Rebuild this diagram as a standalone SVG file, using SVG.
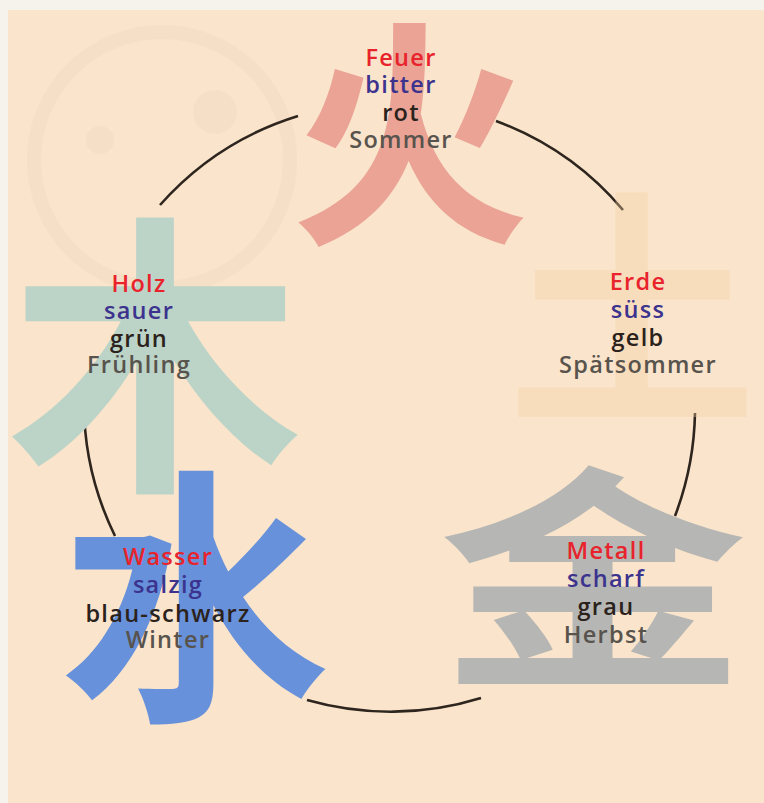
<svg xmlns="http://www.w3.org/2000/svg" width="764" height="803" viewBox="0 0 764 803">
<style>
.lbl{font-family:"Open Sans","Noto Sans","Liberation Sans",sans-serif;font-weight:600;font-size:23.5px;letter-spacing:1.3px;text-anchor:middle}
.el{fill:#e8232c}
.ta{fill:#3b338e}
.co{fill:#2b221c}
.se{fill:#58534d}
.hz{font-family:"Noto Sans CJK SC","Noto Sans CJK JP",sans-serif;font-weight:700;text-anchor:middle}
.arc{fill:none;stroke:#2e251e;stroke-width:2.6;stroke-linecap:butt}
</style>
<rect x="0" y="0" width="764" height="803" fill="#f6f2ec"/>
<rect x="8" y="10" width="756" height="793" fill="#fae4cb"/>
<g id="background-ornament" opacity="0.35">
<circle cx="162" cy="160" r="128" fill="none" stroke="#efd8c0" stroke-width="14"/>
<circle cx="100" cy="140" r="14" fill="#efd8c0"/>
<circle cx="215" cy="112" r="22" fill="#efd8c0"/>
</g>
<g id="connectors">
<path class="arc" d="M160,205 A305,305 0 0 1 298,116"/>
<path class="arc" d="M496,121 A305,305 0 0 1 623,210"/>
<path class="arc" d="M695,413 A305,305 0 0 1 675,516"/>
<path class="arc" d="M481,698 A305,305 0 0 1 307,700"/>
<path class="arc" d="M115,536 A305,305 0 0 1 84,395"/>
</g>
<g id="node-erde">
<text class="hz" x="632" y="405" font-size="250" fill="#f6d2a6" opacity="0.35">土</text>
<text class="lbl el" x="638" y="290">Erde</text>
<text class="lbl ta" x="638" y="318">süss</text>
<text class="lbl co" x="638" y="346">gelb</text>
<text class="lbl se" x="638" y="373">Spätsommer</text>
</g>
<g id="node-feuer">
<text class="hz" x="410" y="225" font-size="240" fill="#eaa395">火</text>
<text class="lbl el" x="401" y="66">Feuer</text>
<text class="lbl ta" x="401" y="93">bitter</text>
<text class="lbl co" x="401" y="121">rot</text>
<text class="lbl se" x="401" y="148">Sommer</text>
</g>
<g id="node-holz">
<text class="hz" x="155" y="468" font-size="295" fill="#bcd4c7">木</text>
<text class="lbl el" x="139" y="292">Holz</text>
<text class="lbl ta" x="139" y="319">sauer</text>
<text class="lbl co" x="139" y="347">grün</text>
<text class="lbl se" x="139" y="373">Frühling</text>
</g>
<g id="node-wasser">
<text class="hz" x="195" y="700" font-size="270" fill="#6791da">水</text>
<text class="lbl el" x="168" y="565">Wasser</text>
<text class="lbl ta" x="168" y="593">salzig</text>
<text class="lbl co" x="168" y="622">blau-schwarz</text>
<text class="lbl se" x="168" y="648">Winter</text>
</g>
<g id="node-metall">
<text class="hz" x="593" y="0" font-size="310" fill="#b6b7b4" transform="translate(0,668) scale(1,0.76)">金</text>
<text class="lbl el" x="606" y="559">Metall</text>
<text class="lbl ta" x="606" y="587">scharf</text>
<text class="lbl co" x="606" y="615">grau</text>
<text class="lbl se" x="606" y="643">Herbst</text>
</g>
</svg>
